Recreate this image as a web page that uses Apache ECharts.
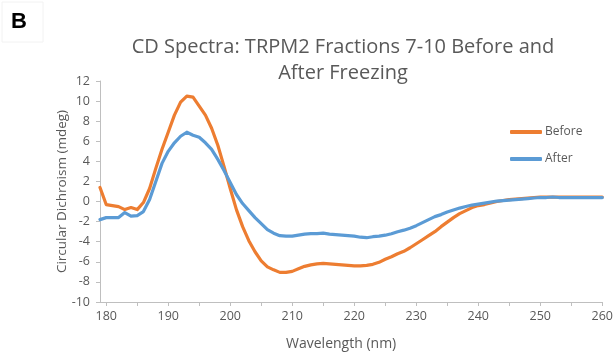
<!DOCTYPE html>
<html>
<head>
<meta charset="utf-8">
<script src="https://cdn.jsdelivr.net/npm/echarts@6/dist/echarts.min.js"></script>
<style>
html,body{margin:0;padding:0;background:#fff;}
#c{width:616px;height:356px;}
</style>
</head>
<body>
<div id="c"></div>
<script>
const wavelength = [179,180,181,182,183,184,185,186,187,188,189,190,191,192,193,194,195,196,197,198,199,200,
  201,202,203,204,205,206,207,208,209,210,211,212,213,214,215,216,217,218,219,220,
  221,222,223,224,225,226,227,228,229,230,231,232,233,234,235,236,237,238,239,240,
  241,242,243,244,245,246,247,248,249,250,251,252,253,254,255,256,257,258,259,260];
const before = [1.4,-0.3,-0.4,-0.5,-0.8,-0.6,-0.8,-0.1,1.3,3.3,5.2,6.9,8.6,9.9,10.5,10.4,9.5,8.6,7.3,5.6,3.5,1.3,
  -0.8,-2.5,-3.9,-5.0,-5.9,-6.5,-6.8,-7.05,-7.05,-6.95,-6.7,-6.45,-6.3,-6.2,-6.15,-6.2,-6.25,-6.3,-6.35,-6.4,
  -6.4,-6.35,-6.25,-6.05,-5.75,-5.5,-5.2,-4.95,-4.6,-4.2,-3.8,-3.4,-3.0,-2.5,-2.05,-1.6,-1.2,-0.9,-0.6,-0.4,
  -0.3,-0.15,0.0,0.1,0.2,0.25,0.3,0.35,0.4,0.45,0.45,0.45,0.45,0.45,0.45,0.45,0.45,0.45,0.45,0.45];
const after = [-1.8,-1.6,-1.6,-1.6,-1.1,-1.45,-1.4,-1.0,0.2,2.0,3.8,5.0,5.85,6.5,6.9,6.6,6.4,5.85,5.2,4.2,3.1,1.9,
  0.7,-0.2,-0.9,-1.6,-2.2,-2.8,-3.15,-3.4,-3.45,-3.45,-3.35,-3.25,-3.2,-3.2,-3.15,-3.25,-3.3,-3.35,-3.4,-3.45,
  -3.55,-3.6,-3.5,-3.45,-3.35,-3.2,-3.0,-2.85,-2.65,-2.4,-2.1,-1.8,-1.5,-1.3,-1.05,-0.85,-0.65,-0.5,-0.35,-0.25,
  -0.15,-0.05,0.05,0.1,0.15,0.2,0.25,0.3,0.35,0.4,0.4,0.45,0.4,0.4,0.4,0.4,0.4,0.4,0.4,0.4];
const xTickValues = [180,185,190,195,200,205,210,215,220,225,230,235,240,245,250,255,260];
const xLabelValues = [180,190,200,210,220,230,240,250,260];
const titleLines = ['CD Spectra: TRPM2 Fractions 7-10 Before and', 'After Freezing'];

const FONT = 'Open Sans';
const GRAY = '#595959';
const AXIS = '#BFBFBF';

const chart = echarts.init(document.getElementById('c'), null, {renderer:'canvas'});
chart.setOption({
  animation: false,
  backgroundColor: '#fff',
  graphic: [
    {type:'rect', shape:{x:2,y:2,width:41,height:40}, style:{fill:'none', stroke:'#f2f2f2', lineWidth:1}},
    {type:'text', x:19, y:22, style:{text:'B', font:'bold 22px "Liberation Sans"', fill:'#000', align:'center', verticalAlign:'middle'}},
    {type:'text', x:343, y:47, style:{text:titleLines[0], font:'20px "' + FONT + '"', fill:GRAY, align:'center', verticalAlign:'middle'}},
    {type:'text', x:343, y:73, style:{text:titleLines[1], font:'20px "' + FONT + '"', fill:GRAY, align:'center', verticalAlign:'middle'}}
  ],
  legend: {
    orient: 'vertical',
    left: 510, top: 126, padding: 0,
    itemWidth: 32, itemHeight: 4, itemGap: 15,
    icon: 'roundRect',
    textStyle: {fontFamily: FONT, fontSize: 12, color: GRAY, padding:[0,0,0,-2]},
    data: ['Before','After']
  },
  grid: {left: 100, right: 8, top: 81, bottom: 45, containLabel: false},
  xAxis: {
    type: 'value', min: 179, max: 260,
    name: 'Wavelength (nm)', nameLocation: 'middle', nameGap: 35, nameMoveOverlap: false,
    nameTextStyle: {fontFamily: FONT, fontSize: 14, color: GRAY, padding:[0,20,0,0]},
    axisLine: {show:true, onZero:false, lineStyle:{color:AXIS, width:1}},
    axisTick: {show:true, length:4, customValues: xTickValues, lineStyle:{color:AXIS}},
    axisLabel: {customValues: xLabelValues, fontFamily: FONT, fontSize: 12.5, color: GRAY, margin: 8},
    splitLine: {show:false}
  },
  yAxis: {
    type: 'value', min: -10, max: 12, interval: 2,
    name: 'Circular Dichroism (mdeg)', nameLocation: 'middle', nameGap: 31, nameMoveOverlap: false,
    nameTextStyle: {fontFamily: FONT, fontSize: 13.5, color: GRAY},
    axisLine: {show:true, lineStyle:{color:AXIS, width:1}},
    axisTick: {show:true, length:4, lineStyle:{color:AXIS}},
    axisLabel: {fontFamily: FONT, fontSize: 12.5, color: GRAY, margin: 10},
    splitLine: {show:false}
  },
  series: [
    {name:'Before', type:'line', data: wavelength.map((w,i)=>[w, before[i]]), symbol:'none',
     lineStyle:{color:'#ED7D31', width:3.2, join:'round', cap:'round'}, itemStyle:{color:'#ED7D31'}},
    {name:'After', type:'line', data: wavelength.map((w,i)=>[w, after[i]]), symbol:'none',
     lineStyle:{color:'#5B9BD5', width:3.2, join:'round', cap:'round'}, itemStyle:{color:'#5B9BD5'}, z:3}
  ]
});
</script>
</body>
</html>
